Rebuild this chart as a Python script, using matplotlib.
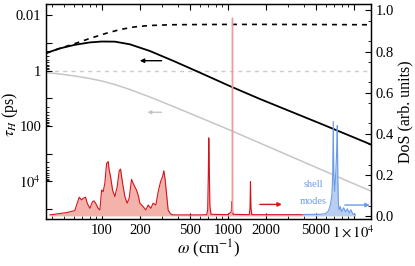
import numpy as np
import matplotlib
matplotlib.use("Agg")
import matplotlib.pyplot as plt
from matplotlib.ticker import FixedLocator, FixedFormatter, NullFormatter

plt.rcParams['font.family'] = ['Liberation Serif', 'DejaVu Serif']
plt.rcParams['mathtext.fontset'] = 'stix'

# ---- tau_H curves (left axis, ps) ----
w_tau = [36, 46.4, 61, 80, 100, 126.8, 166.8, 240, 379, 599, 1037, 1795, 3105, 5373, 9297, 13650]
tau_total = [0.232, 0.156, 0.116, 0.095, 0.088, 0.089, 0.111, 0.193, 0.465, 1.17, 3.6, 10.5, 29.0, 80.0, 225.0, 465.0]
w_dash = [36, 46.4, 63, 80, 110, 140, 180, 240, 350, 600, 1037, 2000, 5000, 13650]
tau_dash = [0.232, 0.156, 0.1, 0.0684, 0.0434, 0.0324, 0.0262, 0.0232, 0.0218, 0.0214, 0.0212, 0.0212, 0.0214, 0.0218]
tau_gray = [1.16, 1.32, 1.55, 1.91, 2.36, 3.15, 4.79, 8.93, 20.6, 49.3, 140.0, 412.0, 1216.0, 3590.0, 10600.0, 22400.0]
tau_ref = 1.0

# ---- DoS (right axis) ----
red_w = [38.7, 52.5, 61, 63, 66.1, 69.0, 71.1, 74.2, 76.5, 80.3, 84.4, 86.9, 90.8, 93.5, 96.4, 99.5,
         102.4, 105.6, 109, 112.2, 114.3, 117.2, 121.6, 126.8, 132.3, 137.3, 140.7, 146, 152.3, 158.8,
         164.8, 172, 177, 182.6, 188.3, 195.6, 200.3, 212.8, 223.4, 232.9, 244.7, 255.3, 268.2, 280,
         292.5, 303.2, 310.6, 318, 325.8, 335.8, 350.7, 368, 600, 680, 692, 700, 706, 712, 720, 735,
         1000, 1065, 1078, 1086, 1100, 1480, 1500, 1513, 1526, 1550, 3940]
red_d = [0.005, 0.016, 0.026, 0.053, 0.091, 0.078, 0.086, 0.091, 0.062, 0.037, 0.070, 0.073, 0.053, 0.037,
         0.029, 0.126, 0.118, 0.159, 0.255, 0.265, 0.224, 0.191, 0.126, 0.094, 0.142, 0.22, 0.228, 0.159,
         0.094, 0.062, 0.086, 0.178, 0.159, 0.142, 0.126, 0.094, 0.062, 0.045, 0.029, 0.053, 0.037, 0.062,
         0.053, 0.118, 0.167, 0.191, 0.22, 0.175, 0.110, 0.029, 0.010, 0.005, 0.005, 0.006, 0.03, 0.2,
         0.38, 0.25, 0.05, 0.008, 0.006, 0.02, 0.07, 0.03, 0.008, 0.006, 0.04, 0.167, 0.04, 0.006, 0.006]
spike_w = [1084, 1089, 1094]
spike_d = [0.02, 0.963, 0.02]
blue_w = [3940, 5500, 6000, 6300, 6500, 6700, 6800, 6870, 6940, 7050, 7180, 7300, 7400, 7470, 7550,
          7650, 7800, 8000, 8300, 8600, 8900, 9200, 9500, 9800, 10300]
blue_d = [0.007, 0.008, 0.012, 0.025, 0.05, 0.1, 0.2, 0.46, 0.2, 0.12, 0.2, 0.3, 0.44, 0.18, 0.06,
          0.03, 0.045, 0.02, 0.04, 0.02, 0.035, 0.015, 0.03, 0.01, 0.005]

x_major = [100, 200, 500, 1000, 2000, 5000, 10000]
x_labels = ['100', '200', '500', '1000', '2000', '5000', r'$1\times10^4$']
y_major = [0.01, 0.1, 1, 10, 100, 1000, 1e4, 1e5]
y_labels = ['0.01', '', '1', '', '100', '', r'$10^4$', '']

fig = plt.figure(figsize=(4.15, 2.66), dpi=100)
ax = fig.add_axes([0.1108, 0.1767, 0.894 - 0.1108, 0.9838 - 0.1767])
ax2 = ax.twinx()

ax.set_xscale('log')
ax.set_yscale('log')
ax.set_xlim(36, 13700)
ax.set_ylim(10**5.363, 10**-2.401)

ax.plot(w_tau, tau_total, color='black', lw=1.3, zorder=3)
ax.plot(w_dash, tau_dash, color='black', lw=1.2, ls=(0, (3, 3)), zorder=3)
ax.plot(w_tau, tau_gray, color='#c6c6c6', lw=1.1, zorder=2)
ax.axhline(tau_ref, color='#cccccc', lw=1.0, ls=(0, (3, 3)), zorder=1)

ax.annotate('', xy=(200, 0.435), xytext=(298, 0.435),
            arrowprops=dict(arrowstyle='-|>', color='black', lw=1.0, mutation_scale=6, shrinkA=0, shrinkB=0))
ax.annotate('', xy=(230, 31.9), xytext=(298, 31.9),
            arrowprops=dict(arrowstyle='-|>', color='#c6c6c6', lw=1.0, mutation_scale=5, shrinkA=0, shrinkB=0))

ax2.set_ylim(-0.015, 1.03)
ax2.fill_between(red_w, red_d, 0, color='#f4b3aa', lw=0, zorder=1)
ax2.plot(red_w, red_d, color='#d4141c', lw=0.8, zorder=2)
ax2.plot(spike_w, spike_d, color='#f09a9a', lw=1.0, zorder=2)
ax2.fill_between(blue_w, blue_d, 0, color='#b8cff2', lw=0, zorder=1)
ax2.plot(blue_w, blue_d, color='#6a9be6', lw=0.8, zorder=2)

ax2.annotate('', xy=(2685, 0.056), xytext=(1795, 0.056),
             arrowprops=dict(arrowstyle='-|>', color='#d4141c', lw=1.0, mutation_scale=6, shrinkA=0, shrinkB=0))
ax2.annotate('', xy=(13390, 0.053), xytext=(8486, 0.053),
             arrowprops=dict(arrowstyle='-|>', color='#6a9be6', lw=1.0, mutation_scale=6, shrinkA=0, shrinkB=0))
ax2.text(4735, 0.151, 'shell', color='#6a9be6', fontsize=7.5, ha='center', va='center')
ax2.text(4735, 0.068, 'modes', color='#6a9be6', fontsize=7.5, ha='center', va='center')

# ticks
ax.xaxis.set_major_locator(FixedLocator(x_major))
ax.xaxis.set_major_formatter(FixedFormatter(x_labels))
x_minor = [40, 50, 60, 70, 80, 90, 300, 400, 600, 700, 800, 900, 3000, 4000, 6000, 7000, 8000, 9000]
ax.xaxis.set_minor_locator(FixedLocator(x_minor))
ax.xaxis.set_minor_formatter(NullFormatter())
ax.yaxis.set_major_locator(FixedLocator(y_major))
ax.yaxis.set_major_formatter(FixedFormatter(y_labels))
y_minor = [m * d for d in (0.1, 10, 1000) for m in range(2, 10)]
ax.yaxis.set_minor_locator(FixedLocator(y_minor))
ax.yaxis.set_minor_formatter(NullFormatter())

ax.tick_params(axis='both', which='both', direction='in', labelsize=10.5)
ax.tick_params(axis='x', which='both', top=True)
ax.tick_params(axis='y', which='both', right=False)
ax.tick_params(which='major', length=4, width=0.8)
ax.tick_params(which='minor', length=2.2, width=0.6)

ax2.set_yticks([0.0, 0.2, 0.4, 0.6, 0.8, 1.0])
ax2.set_yticklabels(['0.0', '0.2', '0.4', '0.6', '0.8', '1.0'])
ax2.set_yticks(np.arange(0.05, 1.0, 0.1), minor=True)
ax2.tick_params(axis='y', which='both', direction='in', labelsize=10.5)
ax2.tick_params(which='major', length=4, width=0.8)
ax2.tick_params(which='minor', length=2.2, width=0.6)

ax.set_xlabel(r'$\omega$ (cm$^{-1}$)', fontsize=12)
ax.xaxis.set_label_coords(0.5, -0.085)
ax.set_ylabel(r'$\tau_H$ (ps)', fontsize=11.5)
ax.yaxis.set_label_coords(-0.08, 0.49)
ax2.set_ylabel('DoS (arb. units)', fontsize=11.5)
ax2.yaxis.set_label_coords(1.082, 0.5)

for a in (ax, ax2):
    for s in a.spines.values():
        s.set_linewidth(0.9)

fig.savefig('out.png', dpi=100)
